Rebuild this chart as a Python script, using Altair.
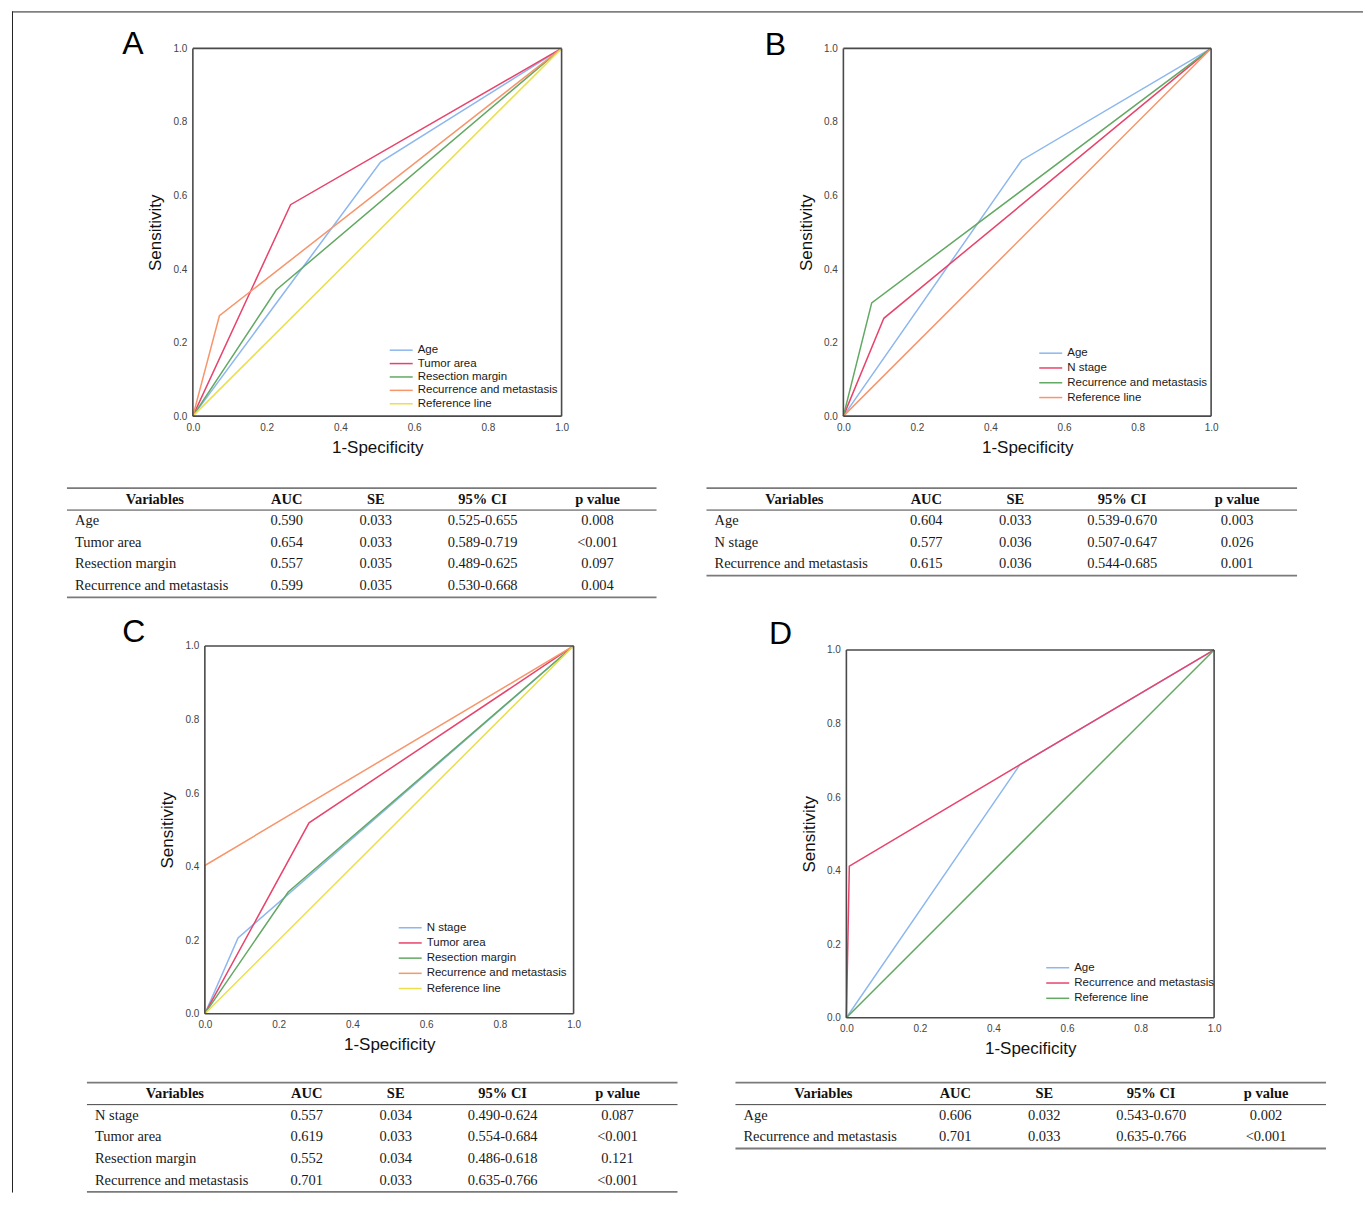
import altair as alt
import pandas as pd

SANS = "Liberation Sans"
SERIF = "Liberation Serif"

BLUE = "#8cb7ef"
RED = "#e8436b"
GREEN = "#63a863"
ORANGE = "#f7956b"
YELLOW = "#ebdf4c"

TICKS = [0.0, 0.2, 0.4, 0.6, 0.8, 1.0]

# ---------------- Panel A ----------------
A_series = ["Age", "Tumor area", "Resection margin", "Recurrence and metastasis", "Reference line"]
A_fpr = [[0, 0.509, 1], [0, 0.265, 1], [0, 0.226, 1], [0, 0.072, 1], [0, 1]]
A_tpr = [[0, 0.691, 1], [0, 0.575, 1], [0, 0.343, 1], [0, 0.273, 1], [0, 1]]
A_colors = [BLUE, RED, GREEN, ORANGE, YELLOW]

# ---------------- Panel B ----------------
B_series = ["Age", "N stage", "Recurrence and metastasis", "Reference line"]
B_fpr = [[0, 0.485, 1], [0, 0.110, 1], [0, 0.077, 1], [0, 1]]
B_tpr = [[0, 0.696, 1], [0, 0.266, 1], [0, 0.308, 1], [0, 1]]
B_colors = [BLUE, RED, GREEN, ORANGE]

# ---------------- Panel C ----------------
C_series = ["N stage", "Tumor area", "Resection margin", "Recurrence and metastasis", "Reference line"]
C_fpr = [[0, 0.090, 1], [0, 0.2825, 1], [0, 0.226, 1], [0, 0, 1], [0, 1]]
C_tpr = [[0, 0.206, 1], [0, 0.519, 1], [0, 0.331, 1], [0, 0.403, 1], [0, 1]]
C_colors = [BLUE, RED, GREEN, ORANGE, YELLOW]

# ---------------- Panel D ----------------
D_series = ["Age", "Recurrence and metastasis", "Reference line"]
D_fpr = [[0, 0.472, 1], [0, 0.008, 0.472, 1], [0, 1]]
D_tpr = [[0, 0.688, 1], [0, 0.412, 0.688, 1], [0, 1]]
D_colors = [BLUE, RED, GREEN]

# ---------------- Tables ----------------
HEADERS = ["Variables", "AUC", "SE", "95% CI", "p value"]

A_vars = ["Age", "Tumor area", "Resection margin", "Recurrence and metastasis"]
A_auc = ["0.590", "0.654", "0.557", "0.599"]
A_se = ["0.033", "0.033", "0.035", "0.035"]
A_ci = ["0.525-0.655", "0.589-0.719", "0.489-0.625", "0.530-0.668"]
A_p = ["0.008", "<0.001", "0.097", "0.004"]

B_vars = ["Age", "N stage", "Recurrence and metastasis"]
B_auc = ["0.604", "0.577", "0.615"]
B_se = ["0.033", "0.036", "0.036"]
B_ci = ["0.539-0.670", "0.507-0.647", "0.544-0.685"]
B_p = ["0.003", "0.026", "0.001"]

C_vars = ["N stage", "Tumor area", "Resection margin", "Recurrence and metastasis"]
C_auc = ["0.557", "0.619", "0.552", "0.701"]
C_se = ["0.034", "0.033", "0.034", "0.033"]
C_ci = ["0.490-0.624", "0.554-0.684", "0.486-0.618", "0.635-0.766"]
C_p = ["0.087", "<0.001", "0.121", "<0.001"]

D_vars = ["Age", "Recurrence and metastasis"]
D_auc = ["0.606", "0.701"]
D_se = ["0.032", "0.033"]
D_ci = ["0.543-0.670", "0.635-0.766"]
D_p = ["0.002", "<0.001"]

# grid: uniform column widths / row heights
COLW = [181, 381, 270, 371]
ROWH = [37, 368, 230, 372, 180]


def one(**kw):
    return pd.DataFrame({k: [v] for k, v in kw.items()})


def spacer(w, h):
    return alt.Chart(one(v=0)).mark_point(opacity=0, size=1).encode(
        x=alt.value(w / 2), y=alt.value(h / 2)
    ).properties(width=w, height=h)


def frame_cell(w, h, fw, fh):
    d = one(v=0)
    top = alt.Chart(d).mark_rule(color="#222", strokeWidth=1).encode(
        x=alt.value(0), x2=alt.value(fw), y=alt.value(0.5))
    left = alt.Chart(d).mark_rule(color="#222", strokeWidth=1).encode(
        x=alt.value(0.5), y=alt.value(0), y2=alt.value(fh))
    return alt.layer(top, left).properties(width=w, height=h)


def axis(title, pad, offset):
    return alt.Axis(values=TICKS, format=".1f", grid=False, ticks=False, domain=False,
                    labelFlush=False, labelFont=SANS, labelFontSize=10, labelColor="#444",
                    labelPadding=6, title=title, titleFont=SANS, titleFontSize=17,
                    titleFontWeight="normal", titleColor="#111", titlePadding=pad,
                    offset=offset)


def roc(series, fpr, tpr, colors, letter, let_x, let_y, leg_x, leg_y, leg_dy,
        w, h, xr, yr, xoff, yoff):
    rows = []
    for s, xs, ys in zip(series, fpr, tpr):
        for i, (x, y) in enumerate(zip(xs, ys)):
            rows.append({"series": s, "fpr": x, "tpr": y, "idx": i})
    df = pd.DataFrame(rows)
    xsc = alt.Scale(domain=[0, 1], range=xr, nice=False, zero=False)
    ysc = alt.Scale(domain=[0, 1], range=yr, nice=False, zero=False)
    csc = alt.Scale(domain=series, range=colors)
    xax = axis("1-Specificity", 7, xoff)
    yax = axis("Sensitivity", 8, yoff)
    lines = alt.Chart(df).mark_line(strokeWidth=1.5).encode(
        x=alt.X("fpr:Q", scale=xsc, axis=xax),
        y=alt.Y("tpr:Q", scale=ysc, axis=yax),
        color=alt.Color("series:N", scale=csc, legend=None),
        order=alt.Order("idx:Q"),
    )
    fdf = pd.DataFrame({"fx": [0, 0, 0, 1], "fx2": [1, 1, 0, 1],
                        "fy": [0, 1, 0, 0], "fy2": [0, 1, 1, 1]})
    frame = alt.Chart(fdf).mark_rule(color="#4a4a4a", strokeWidth=1.6).encode(
        x=alt.X("fx:Q", scale=xsc, axis=xax), x2="fx2:Q",
        y=alt.Y("fy:Q", scale=ysc, axis=yax), y2="fy2:Q",
    )
    layers = [lines, frame]
    for i, s in enumerate(series):
        ldf = one(series=s)
        yy = leg_y + i * leg_dy
        layers.append(alt.Chart(ldf).mark_rule(strokeWidth=1.5).encode(
            x=alt.value(leg_x), x2=alt.value(leg_x + 23), y=alt.value(yy),
            color=alt.Color("series:N", scale=csc, legend=None)))
        layers.append(alt.Chart(ldf).mark_text(
            align="left", baseline="middle", font=SANS, fontSize=11.5, color="#1a1a1a").encode(
            x=alt.value(leg_x + 28), y=alt.value(yy), text="series:N"))
    layers.append(alt.Chart(one(t=letter)).mark_text(
        align="center", baseline="alphabetic", font=SANS, fontSize=32, color="#000").encode(
        x=alt.value(let_x), y=alt.value(let_y), text="t:N"))
    return alt.layer(*layers).properties(width=w, height=h)


COLX = [88, 220, 309, 416, 531]


def table(vars_, auc, se, ci, p, w, h, left, tw, top, dy=21.7):
    n = len(vars_)
    df = pd.DataFrame({"row": list(range(n)), "var": vars_, "auc": auc,
                       "se": se, "ci": ci, "p": p})
    ysc = alt.Scale(domain=[0, 1], range=[top + 33, top + 33 + dy], nice=False, zero=False)
    d = one(v=0)
    bottom = top + 22.5 + n * dy
    layers = [
        alt.Chart(d).mark_rule(color="#7a7a7a", strokeWidth=1.8).encode(
            x=alt.value(left), x2=alt.value(left + tw), y=alt.value(top)),
        alt.Chart(d).mark_rule(color="#444", strokeWidth=1).encode(
            x=alt.value(left), x2=alt.value(left + tw), y=alt.value(top + 22)),
        alt.Chart(d).mark_rule(color="#7a7a7a", strokeWidth=1.8).encode(
            x=alt.value(left), x2=alt.value(left + tw), y=alt.value(bottom)),
    ]
    for hdr, cx in zip(HEADERS, COLX):
        layers.append(alt.Chart(one(t=hdr)).mark_text(
            align="center", baseline="middle", font=SERIF, fontSize=14.5,
            fontWeight="bold", color="#111").encode(
            x=alt.value(left + cx), y=alt.value(top + 11.5), text="t:N"))
    fields = ["var", "auc", "se", "ci", "p"]
    for k, (f, cx) in enumerate(zip(fields, COLX)):
        layers.append(alt.Chart(df).mark_text(
            align="left" if k == 0 else "center", baseline="middle", font=SERIF,
            fontSize=14.5, color="#1a1a1a").encode(
            x=alt.value(left + (8 if k == 0 else cx)),
            y=alt.Y("row:Q", scale=ysc, axis=None),
            text=f"{f}:N"))
    return alt.layer(*layers).properties(width=w, height=h)


W0, W1, W2, W3 = COLW
H0, H1, H2, H3, H4 = ROWH

rocA = roc(A_series, A_fpr, A_tpr, A_colors, "A", -60, 6, 197, 302, 13.4,
           W1, H1, [0, 369], [368, 0], 0, 0)
rocB = roc(B_series, B_fpr, B_tpr, B_colors, "B", -68, 7, 196, 305, 14.8,
           W3, H1, [0, 368], [368, 0], 0, 0)
rocC = roc(C_series, C_fpr, C_tpr, C_colors, "C", -59, -4, 206, 282, 15.2,
           W1, H3, [12, 381], [368, 0], -4, -12)
rocD = roc(D_series, D_fpr, D_tpr, D_colors, "D", -63, -2, 203, 322, 15.3,
           W3, H3, [3, 371], [372, 4], 0, -3)

tabA = table(A_vars, A_auc, A_se, A_ci, A_p, W1, H2, -126, 590, 72)
tabB = table(B_vars, B_auc, B_se, B_ci, B_p, W3, H2, -137, 591, 72)
tabC = table(C_vars, C_auc, C_se, C_ci, C_p, W1, H4, -106, 591, 65)
tabD = table(D_vars, D_auc, D_se, D_ci, D_p, W3, H4, -108, 591, 65)

cells = [
    frame_cell(W0, H0, 1352, 1182), spacer(W1, H0), spacer(W2, H0), spacer(W3, H0),
    spacer(W0, H1), rocA, spacer(W2, H1), rocB,
    spacer(W0, H2), tabA, spacer(W2, H2), tabB,
    spacer(W0, H3), rocC, spacer(W2, H3), rocD,
    spacer(W0, H4), tabC, spacer(W2, H4), tabD,
]

chart = alt.concat(*cells, columns=4, spacing=0, bounds="flush").resolve_scale(
    x="independent", y="independent", color="independent"
).properties(
    padding={"left": 3, "top": 2, "right": 0, "bottom": 0}
).configure(
    background="white",
    view=alt.ViewConfig(strokeWidth=0, stroke="transparent"),
)

chart.save("out.html", embed_options={"renderer": "svg", "actions": False})
